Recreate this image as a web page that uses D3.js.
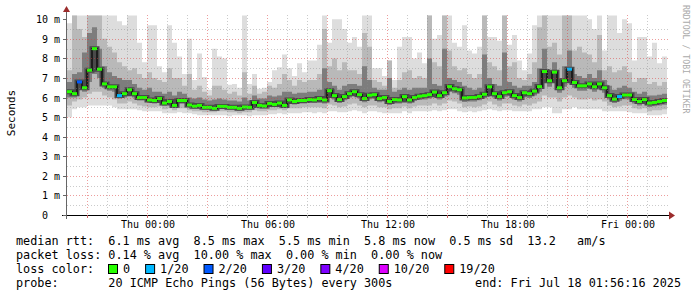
<!DOCTYPE html>
<html>
<head>
<meta charset="utf-8">
<title>SmokePing: last 30 hours</title>
<script src="https://cdn.jsdelivr.net/npm/d3@7"></script>
<style>
  html, body { margin: 0; padding: 0; background: #fff; }
  svg text { font-family: "DejaVu Sans Mono", monospace; white-space: pre; fill: #000; }
</style>
</head>
<body>
<svg id="chart" width="697" height="297"></svg>
<script>

// 15 minute samples, Wed 20:00 -> Fri 02:00 (120 steps), values in ms

var median = [
  6.30, 6.20, 6.80, 6.50, 7.40, 8.50, 7.45, 6.70, 6.55, 6.55,
  6.10, 6.20, 6.40, 6.20, 6.00, 6.00, 5.88, 5.85, 5.95, 5.72,
  5.80, 5.60, 5.85, 5.85, 5.62, 5.56, 5.60, 5.50, 5.50, 5.45,
  5.55, 5.55, 5.50, 5.50, 5.45, 5.52, 5.50, 5.75, 5.60, 5.57,
  5.70, 5.65, 5.72, 5.60, 5.88, 5.80, 5.85, 5.85, 5.90, 5.88,
  5.95, 5.88, 6.35, 6.10, 5.90, 6.05, 6.20, 6.30, 6.15, 5.95,
  6.12, 6.15, 5.95, 6.00, 5.80, 5.90, 5.88, 6.05, 5.88, 6.00,
  6.07, 6.10, 6.15, 6.28, 6.10, 6.25, 6.56, 6.45, 6.40, 5.98,
  6.00, 6.00, 6.06, 6.17, 6.55, 6.20, 6.05, 6.25, 6.30, 6.10,
  6.00, 6.25, 6.20, 6.33, 6.56, 7.33, 6.86, 7.30, 6.50, 6.86,
  7.45, 6.77, 6.60, 6.60, 6.70, 6.55, 6.70, 6.50, 6.10, 5.92,
  6.05, 6.13, 6.13, 5.90, 5.80, 5.90, 5.72, 5.75, 5.80, 5.85
];

// lost pings out of 20
var loss = [
  0, 0, 2, 0, 0, 0, 0, 0, 0, 0,
  1, 0, 0, 0, 0, 0, 0, 0, 0, 0,
  0, 0, 0, 0, 0, 0, 0, 0, 0, 0,
  0, 0, 0, 0, 0, 0, 0, 0, 0, 0,
  0, 0, 0, 0, 0, 0, 0, 0, 0, 0,
  0, 0, 0, 0, 0, 0, 0, 0, 0, 0,
  0, 0, 0, 0, 0, 0, 0, 0, 0, 0,
  0, 0, 0, 0, 0, 0, 0, 0, 0, 0,
  0, 0, 0, 0, 0, 0, 0, 0, 0, 0,
  0, 0, 0, 0, 0, 0, 0, 0, 0, 0,
  1, 0, 0, 0, 0, 0, 0, 0, 0, 0,
  1, 0, 0, 0, 0, 0, 0, 0, 0, 0
];

// smoke: outer (light) band
var hi1 = [
  9.8, 10.2, 10.2, 10.2, 10.2, 10.2, 10.2, 10.2, 10.2, 10.2,
  9.9, 9.7, 10.2, 10.2, 8.8, 7.8, 9.7, 9.7, 7.6, 7.3,
  9.7, 8.8, 8.1, 7.2, 9.0, 6.9, 8.25, 7.05, 6.4, 8.5,
  8.1, 8.0, 6.65, 6.7, 6.5, 10.2, 6.7, 7.2, 6.45, 6.5,
  6.8, 7.4, 7.55, 8.2, 7.5, 7.1, 7.75, 7.3, 7.9, 7.9,
  8.7, 10.2, 8.8, 10.0, 10.0, 9.5, 8.8, 9.1, 8.6, 10.2,
  10.2, 7.5, 7.5, 7.1, 7.9, 6.9, 8.6, 9.1, 9.1, 8.0,
  8.3, 7.75, 10.2, 9.0, 9.2, 10.2, 10.2, 8.8, 8.6, 9.7,
  8.4, 8.25, 8.6, 10.2, 9.1, 9.1, 8.9, 10.2, 8.7, 9.2,
  7.9, 7.4, 8.25, 9.7, 10.2, 10.2, 10.2, 10.2, 10.2, 10.2,
  10.2, 10.2, 10.2, 10.2, 10.0, 9.5, 10.2, 8.4, 10.2, 10.2,
  9.3, 10.0, 9.8, 7.9, 9.1, 9.1, 8.1, 8.8, 7.75, 8.1
];
var lo1 = [
  5.0, 5.4, 5.5, 5.5, 5.6, 5.6, 5.6, 5.6, 5.6, 5.5,
  5.4, 5.4, 5.4, 5.4, 5.35, 5.3, 5.3, 5.3, 5.3, 5.2,
  5.2, 5.2, 5.25, 5.2, 5.2, 5.15, 5.1, 5.1, 5.1, 5.1,
  5.1, 5.1, 5.05, 5.1, 5.1, 5.1, 5.05, 5.1, 5.1, 5.1,
  5.15, 5.15, 5.2, 5.15, 5.2, 5.2, 5.2, 5.25, 5.25, 5.2,
  5.25, 5.2, 5.3, 5.3, 5.25, 5.25, 5.3, 5.35, 5.3, 5.2,
  5.3, 5.3, 5.25, 5.2, 5.2, 5.2, 5.2, 5.3, 5.2, 5.3,
  5.3, 5.3, 5.3, 5.35, 5.3, 5.35, 5.4, 5.4, 5.3, 5.25,
  5.3, 5.25, 5.3, 5.35, 5.4, 5.35, 5.3, 5.35, 5.35, 5.3,
  5.3, 5.3, 5.3, 5.4, 5.4, 5.5, 5.5, 5.2, 5.2, 5.4,
  5.4, 5.5, 5.4, 5.4, 5.4, 5.4, 5.4, 5.3, 5.3, 5.3,
  5.3, 5.3, 5.25, 5.2, 5.2, 5.2, 5.1, 5.1, 5.1, 5.15
];

// smoke: middle band
var hi2 = [
  7.4, 10.2, 9.5, 9.1, 10.2, 10.2, 10.2, 9.0, 8.6, 8.3,
  7.8, 7.6, 7.4, 7.5, 7.2, 7.0, 7.3, 7.0, 6.9, 6.8,
  7.5, 7.0, 7.0, 6.6, 7.2, 6.4, 6.6, 6.3, 6.1, 6.6,
  6.6, 6.4, 6.2, 6.3, 6.1, 7.3, 6.2, 6.6, 6.2, 6.3,
  6.6, 6.5, 6.7, 7.2, 6.9, 6.6, 6.9, 6.8, 6.9, 6.9,
  7.2, 9.5, 7.6, 8.0, 7.4, 7.8, 7.4, 7.4, 7.2, 9.3,
  8.6, 6.9, 6.8, 6.6, 7.9, 6.5, 6.9, 7.3, 7.4, 7.0,
  7.1, 7.0, 10.2, 7.8, 7.6, 10.2, 8.4, 7.6, 7.4, 7.5,
  7.2, 7.0, 7.2, 10.2, 7.8, 7.6, 7.4, 10.2, 7.6, 7.8,
  7.0, 6.9, 7.2, 7.8, 9.6, 10.2, 8.6, 8.8, 8.2, 10.2,
  10.2, 8.4, 8.6, 8.3, 8.2, 7.8, 9.2, 7.4, 7.6, 7.3,
  7.4, 7.6, 7.3, 6.8, 7.0, 7.0, 6.7, 6.8, 6.6, 6.8
];
var lo2 = [
  5.6, 5.8, 5.9, 6.0, 6.2, 6.3, 6.3, 6.1, 6.0, 5.9,
  5.7, 5.7, 5.8, 5.7, 5.6, 5.55, 5.5, 5.5, 5.55, 5.4,
  5.45, 5.35, 5.45, 5.45, 5.35, 5.3, 5.3, 5.25, 5.25, 5.25,
  5.3, 5.3, 5.25, 5.25, 5.2, 5.25, 5.25, 5.35, 5.3, 5.3,
  5.35, 5.35, 5.4, 5.35, 5.45, 5.45, 5.45, 5.5, 5.5, 5.5,
  5.5, 5.45, 5.65, 5.6, 5.5, 5.55, 5.65, 5.7, 5.6, 5.5,
  5.6, 5.6, 5.5, 5.5, 5.4, 5.45, 5.45, 5.55, 5.45, 5.55,
  5.6, 5.6, 5.6, 5.7, 5.6, 5.7, 5.85, 5.8, 5.7, 5.5,
  5.55, 5.5, 5.55, 5.65, 5.8, 5.65, 5.55, 5.7, 5.7, 5.6,
  5.55, 5.65, 5.6, 5.7, 5.8, 6.1, 6.0, 6.0, 5.8, 6.0,
  6.1, 6.0, 5.9, 5.9, 5.95, 5.85, 5.9, 5.8, 5.6, 5.5,
  5.55, 5.6, 5.6, 5.45, 5.4, 5.45, 5.3, 5.35, 5.35, 5.4
];

// smoke: inner (dark) band
var hi3 = [
  6.8, 7.2, 7.3, 8.3, 9.3, 9.6, 8.5, 7.6, 7.3, 7.1,
  7.0, 6.9, 6.9, 6.7, 6.5, 6.4, 6.5, 6.3, 6.3, 6.2,
  6.3, 6.1, 6.3, 6.2, 6.0, 5.95, 6.0, 5.9, 5.85, 5.9,
  5.95, 5.9, 5.85, 5.85, 5.8, 6.0, 5.85, 6.1, 5.95, 5.95,
  6.1, 6.05, 6.1, 6.3, 6.3, 6.2, 6.25, 6.25, 6.3, 6.3,
  6.4, 7.5, 6.8, 6.6, 6.4, 6.6, 6.7, 6.7, 6.6, 7.6,
  6.9, 6.5, 6.4, 6.4, 7.0, 6.3, 6.4, 6.5, 6.4, 6.5,
  6.5, 6.5, 8.0, 6.7, 6.6, 8.5, 7.0, 6.9, 6.8, 6.6,
  6.5, 6.4, 6.5, 8.2, 7.0, 6.7, 6.6, 8.3, 6.8, 6.6,
  6.5, 6.6, 6.6, 6.8, 7.5, 8.5, 7.4, 7.8, 7.0, 7.6,
  8.4, 7.2, 7.1, 7.0, 7.2, 7.0, 7.4, 6.9, 6.6, 6.4,
  6.5, 6.6, 6.5, 6.3, 6.2, 6.3, 6.1, 6.1, 6.15, 6.2
];
var lo3 = [
  6.0, 6.0, 6.4, 6.3, 6.8, 7.2, 7.0, 6.5, 6.35, 6.3,
  5.95, 6.0, 6.15, 6.0, 5.85, 5.85, 5.72, 5.7, 5.78, 5.58,
  5.65, 5.48, 5.68, 5.68, 5.5, 5.44, 5.46, 5.38, 5.38, 5.34,
  5.42, 5.42, 5.38, 5.38, 5.33, 5.4, 5.38, 5.58, 5.46, 5.45,
  5.56, 5.52, 5.58, 5.47, 5.7, 5.65, 5.7, 5.7, 5.74, 5.72,
  5.78, 5.7, 6.1, 5.9, 5.72, 5.86, 6.0, 6.08, 5.96, 5.76,
  5.92, 5.94, 5.76, 5.8, 5.62, 5.7, 5.7, 5.86, 5.7, 5.82,
  5.88, 5.9, 5.95, 6.06, 5.9, 6.05, 6.3, 6.22, 6.15, 5.78,
  5.8, 5.8, 5.86, 5.96, 6.3, 6.0, 5.85, 6.04, 6.08, 5.9,
  5.8, 6.02, 5.98, 6.1, 6.3, 6.9, 6.55, 6.8, 6.25, 6.55,
  6.9, 6.5, 6.35, 6.35, 6.45, 6.3, 6.42, 6.25, 5.9, 5.72,
  5.84, 5.92, 5.9, 5.7, 5.6, 5.7, 5.52, 5.56, 5.6, 5.64
];

var yTicks = [0, 1, 2, 3, 4, 5, 6, 7, 8, 9, 10];
var lossClasses = ["0", "1/20", "2/20", "3/20", "4/20", "10/20", "19/20"];
var lossColors  = ["#26ff00", "#00b8ff", "#0059ff", "#5e00ff", "#7e00ff", "#dd00ff", "#ff0000"];
var lossLevels  = [0, 1, 2, 3, 4, 10, 19];

var legendLines = [
  "median rtt:  6.1 ms avg  8.5 ms max  5.5 ms min  5.8 ms now  0.5 ms sd  13.2   am/s",
  "packet loss: 0.14 % avg  10.00 % max  0.00 % min  0.00 % now"
];
var probeLine = "probe:       20 ICMP Echo Pings (56 Bytes) every 300s";
var endLine = "end: Fri Jul 18 01:56:16 2025";

var t0 = new Date(Date.UTC(2025, 6, 16, 20, 0));
var t1 = new Date(Date.UTC(2025, 6, 18, 2, 0));
var times = d3.utcMinute.every(15).range(t0, new Date(+t1 + 1)); // 121 edges

var svg = d3.select("#chart");
var plotL = 67, plotR = 667, plotT = 15, plotB = 215;

var x = d3.scaleUtc().domain([t0, t1]).range([plotL, plotR]);
var y = d3.scaleLinear().domain([0, 10]).range([plotB, 19.3]);

svg.append("defs").append("clipPath").attr("id", "plot")
  .append("rect").attr("x", plotL).attr("y", plotT - 1)
  .attr("width", plotR - plotL).attr("height", plotB - plotT + 1);

var idx = d3.range(times.length);
var last = median.length - 1;
function at(arr, i) { return arr[Math.min(i, last)]; }

var plot = svg.append("g").attr("clip-path", "url(#plot)");

// smoke, lightest first
[[lo1, hi1, "#dddddd"], [lo2, hi2, "#b9b9b9"], [lo3, hi3, "#7d7d7d"]].forEach(function (b) {
  var area = d3.area().curve(d3.curveStepAfter)
    .x(function (i) { return x(times[i]); })
    .y0(function (i) { return y(at(b[0], i)); })
    .y1(function (i) { return y(at(b[1], i)); });
  plot.append("path").datum(idx).attr("d", area).attr("fill", b[2]);
});

// dark core and connector of the median
var step = d3.line().curve(d3.curveStepAfter)
  .x(function (i) { return x(times[i]); })
  .y(function (i) { return y(at(median, i)); });
plot.append("path").datum(idx).attr("d", step)
  .attr("fill", "none").attr("stroke", "#4a4a4a").attr("stroke-width", 5);
plot.append("path").datum(idx).attr("d", step)
  .attr("fill", "none").attr("stroke", "#111").attr("stroke-width", 1.5);

// grid on top, like rrdtool
var hours = d3.utcHour.every(1).range(new Date(+t0 + 1), t1);
var grid = svg.append("g").attr("shape-rendering", "crispEdges");
d3.range(1, 20).forEach(function (k) {
  var py = Math.round(y(k / 2)) + 0.5;
  grid.append("line")
    .attr("x1", plotL).attr("x2", plotR + 2).attr("y1", py).attr("y2", py)
    .attr("stroke", k % 2 === 0 ? "rgba(220,60,60,0.5)" : "rgba(140,140,140,0.45)")
    .attr("stroke-dasharray", "1,2");
});
hours.forEach(function (t) {
  var px = Math.round(x(t)) + 0.5;
  grid.append("line")
    .attr("x1", px).attr("x2", px).attr("y1", plotT).attr("y2", plotB)
    .attr("stroke", t.getUTCHours() % 3 === 0 ? "rgba(220,60,60,0.5)" : "rgba(140,140,140,0.45)")
    .attr("stroke-dasharray", "1,2");
});

// coloured median segments
plot.selectAll("line.med").data(median).enter().append("line")
  .attr("x1", function (d, i) { return x(times[i]); })
  .attr("x2", function (d, i) { return x(times[i + 1]); })
  .attr("y1", function (d) { return y(d); })
  .attr("y2", function (d) { return y(d); })
  .attr("stroke", function (d, i) {
    var c = 0;
    lossLevels.forEach(function (l, j) { if (loss[i] >= l) c = j; });
    return lossColors[c];
  })
  .attr("stroke-width", 3);

// axes
var ax = svg.append("g").attr("shape-rendering", "crispEdges");
ax.append("line").attr("x1", 62).attr("x2", 670).attr("y1", plotB + 0.5).attr("y2", plotB + 0.5)
  .attr("stroke", "#000").attr("stroke-width", 1.5);
ax.append("line").attr("x1", plotL - 0.5).attr("x2", plotL - 0.5).attr("y1", 11).attr("y2", plotB + 4)
  .attr("stroke", "#666").attr("stroke-width", 1);
svg.append("path").attr("d", "M669,211.5 L675,215.5 L669,219.5 Z").attr("fill", "#9b2c2c");
svg.append("path").attr("d", "M63,12 L66.5,6 L70,12 Z").attr("fill", "#9b2c2c");

// y ticks
yTicks.forEach(function (v) {
  var py = Math.round(y(v)) + 0.5;
  ax.append("line").attr("x1", 63).attr("x2", plotL).attr("y1", py).attr("y2", py).attr("stroke", "#666");
  svg.append("text").attr("x", 60).attr("y", py).attr("text-anchor", "end")
    .attr("dominant-baseline", "central").attr("font-size", 10)
    .text(v === 0 ? "0  " : v + " m");
});

// x ticks
hours.forEach(function (t) {
  var px = Math.round(x(t)) + 0.5;
  ax.append("line").attr("x1", px).attr("x2", px).attr("y1", plotB).attr("y2", plotB + 3)
    .attr("stroke", t.getUTCHours() % 3 === 0 ? "#c66" : "#999");
});
var fmt = d3.utcFormat("%a %H:%M");
d3.utcHour.every(6).range(new Date(+t0 + 1), t1).forEach(function (t) {
  svg.append("text").attr("x", x(t) + 1).attr("y", 224.5).attr("text-anchor", "middle")
    .attr("dominant-baseline", "central").attr("font-size", 10).text(fmt(t));
});

svg.append("text").attr("transform", "translate(11,113) rotate(-90)")
  .attr("text-anchor", "middle").attr("dominant-baseline", "central")
  .attr("font-size", 11).text("Seconds");

svg.append("text").attr("transform", "translate(686,5) rotate(90)")
  .attr("text-anchor", "start").attr("dominant-baseline", "central")
  .attr("font-size", 8.2).style("fill", "#aaaaaa").text("RRDTOOL / TOBI OETIKER");

// legend
var fs = 11.8, cw = fs * 0.602;
legendLines.forEach(function (s, k) {
  svg.append("text").attr("x", 16).attr("y", 241 + k * 14).attr("dominant-baseline", "central")
    .attr("font-size", fs).text(s);
});
svg.append("text").attr("x", 16).attr("y", 269).attr("dominant-baseline", "central")
  .attr("font-size", fs).text("loss color:");
var lx = 108.5;
lossClasses.forEach(function (c, j) {
  svg.append("rect").attr("x", lx).attr("y", 264.5).attr("width", 9).attr("height", 9)
    .attr("fill", lossColors[j]).attr("stroke", "#000").attr("stroke-width", 1);
  svg.append("text").attr("x", lx + 14.5).attr("y", 269).attr("dominant-baseline", "central")
    .attr("font-size", fs).text(c);
  lx += 14.5 + c.length * cw + 15.5;
});
svg.append("text").attr("x", 16).attr("y", 283).attr("dominant-baseline", "central")
  .attr("font-size", fs).text(probeLine);
svg.append("text").attr("x", 681).attr("y", 283).attr("text-anchor", "end")
  .attr("dominant-baseline", "central").attr("font-size", fs).text(endLine);

</script>
</body>
</html>
